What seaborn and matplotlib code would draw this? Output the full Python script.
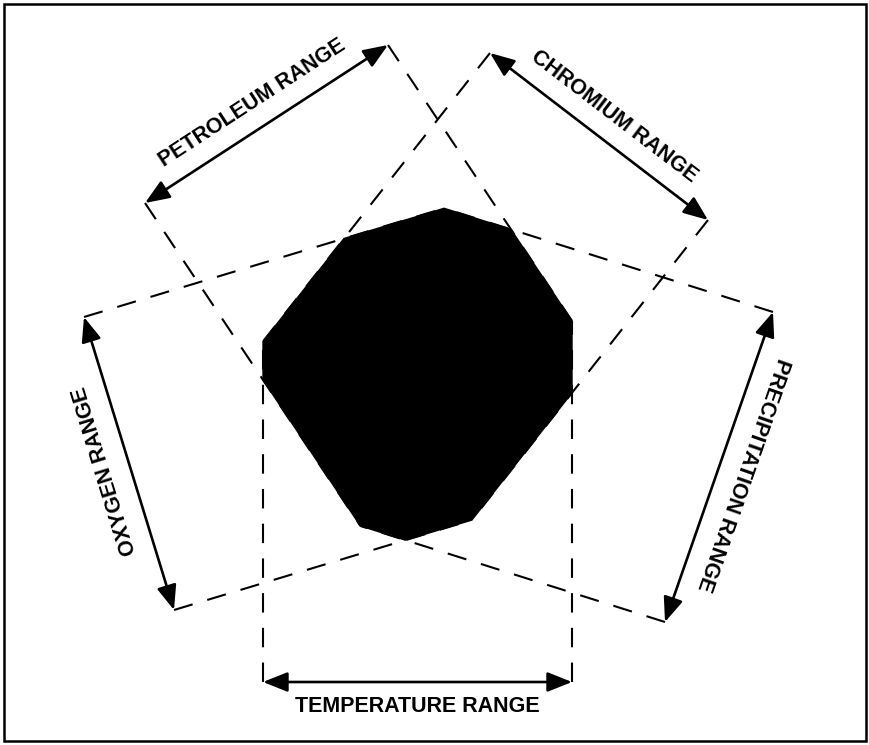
import numpy as np
import pandas as pd
import matplotlib
matplotlib.use('Agg')
import matplotlib.pyplot as plt
from matplotlib.patches import Rectangle
import seaborn as sns

# Band geometry (pixel coords, y grows downward)
labels = ['TEMPERATURE RANGE', 'OXYGEN RANGE', 'PRECIPITATION RANGE',
          'PETROLEUM RANGE', 'CHROMIUM RANGE']
start_x = [263, 174, 773, 145, 490]
start_y = [682, 610, 312, 203, 53]
end_x = [572, 84, 665, 388, 708]
end_y = [682, 317, 622, 45, 220]
# direction the dashed band runs from its arrow toward the middle (deg)
band_dir = [-90, -16.8, -162.5, 56.3, 128.2]

W, H = 870, 745

sns.set_theme(style='white')
plt.rcParams['font.family'] = ['Liberation Sans', 'DejaVu Sans']
plt.rcParams['lines.scale_dashes'] = False


def clip(poly, n, c, keep_ge):
    # keep the part of poly where n.p >= c (or <= c)
    out = []
    k = len(poly)
    for i in range(k):
        p, q = poly[i], poly[(i + 1) % k]
        fp = np.dot(n, p) - c
        fq = np.dot(n, q) - c
        if not keep_ge:
            fp, fq = -fp, -fq
        if fp >= 0:
            out.append(p)
        if (fp >= 0) != (fq >= 0):
            t = fp / (fp - fq)
            out.append(p + t * (q - p))
    return out


# intersection of all five bands
poly = [np.array(v, float) for v in [(0, 0), (W, 0), (W, H), (0, H)]]
for i in range(len(labels)):
    th = np.radians(band_dir[i])
    n = np.array([-np.sin(th), np.cos(th)])
    sa = n @ np.array([start_x[i], start_y[i]])
    sb = n @ np.array([end_x[i], end_y[i]])
    poly = clip(poly, n, min(sa, sb), True)
    poly = clip(poly, n, max(sa, sb), False)
poly = np.array(poly)

# dashed edges: from each arrow end to the far end of its side of the black shape
rows = []
seg = 0
for i in range(len(labels)):
    th = np.radians(band_dir[i])
    d = np.array([np.cos(th), np.sin(th)])
    n = np.array([-np.sin(th), np.cos(th)])
    for px, py in [(start_x[i], start_y[i]), (end_x[i], end_y[i])]:
        P = np.array([px, py], float)
        on = poly[np.abs(poly @ n - n @ P) < 0.5]
        t = ((on - P) @ d).max()
        Q = P + t * d
        rows.append((seg, P[0], P[1]))
        rows.append((seg, Q[0], Q[1]))
        seg += 1
edges = pd.DataFrame(rows, columns=['seg', 'x', 'y'])

fig = plt.figure(figsize=(W / 100, H / 100), dpi=100)
ax = fig.add_axes([0, 0, 1, 1])

g = sns.lineplot(data=edges, x='x', y='y', units='seg', estimator=None,
                 sort=False, color='black', linewidth=1.5, ax=ax, legend=False)
for ln in g.lines:
    ln.set_dashes((14, 11))

ax.fill(poly[:, 0], poly[:, 1], color='black', zorder=3)

for i in range(len(labels)):
    A = np.array([start_x[i], start_y[i]], float)
    B = np.array([end_x[i], end_y[i]], float)
    ax.annotate('', xy=B, xytext=A,
                arrowprops=dict(arrowstyle='<|-|>,head_length=0.75,head_width=0.3',
                                mutation_scale=20, lw=1.9, color='black',
                                shrinkA=0, shrinkB=0))
    th = np.radians(band_dir[i])
    d = np.array([np.cos(th), np.sin(th)])
    pos = (A + B) / 2 - d * 25
    rot = np.degrees(np.arctan2(-(B[1] - A[1]), B[0] - A[0]))
    ax.text(pos[0], pos[1], labels[i], rotation=rot, rotation_mode='anchor',
            ha='center', va='center', fontsize=15.5, fontweight='bold',
            color='black')

ax.add_patch(Rectangle((4, 4), W - 8, H - 8, fill=False, lw=1.8,
                       edgecolor='black'))

ax.set_xlim(0, W)
ax.set_ylim(H, 0)
ax.axis('off')
fig.savefig('out.png', dpi=100)
